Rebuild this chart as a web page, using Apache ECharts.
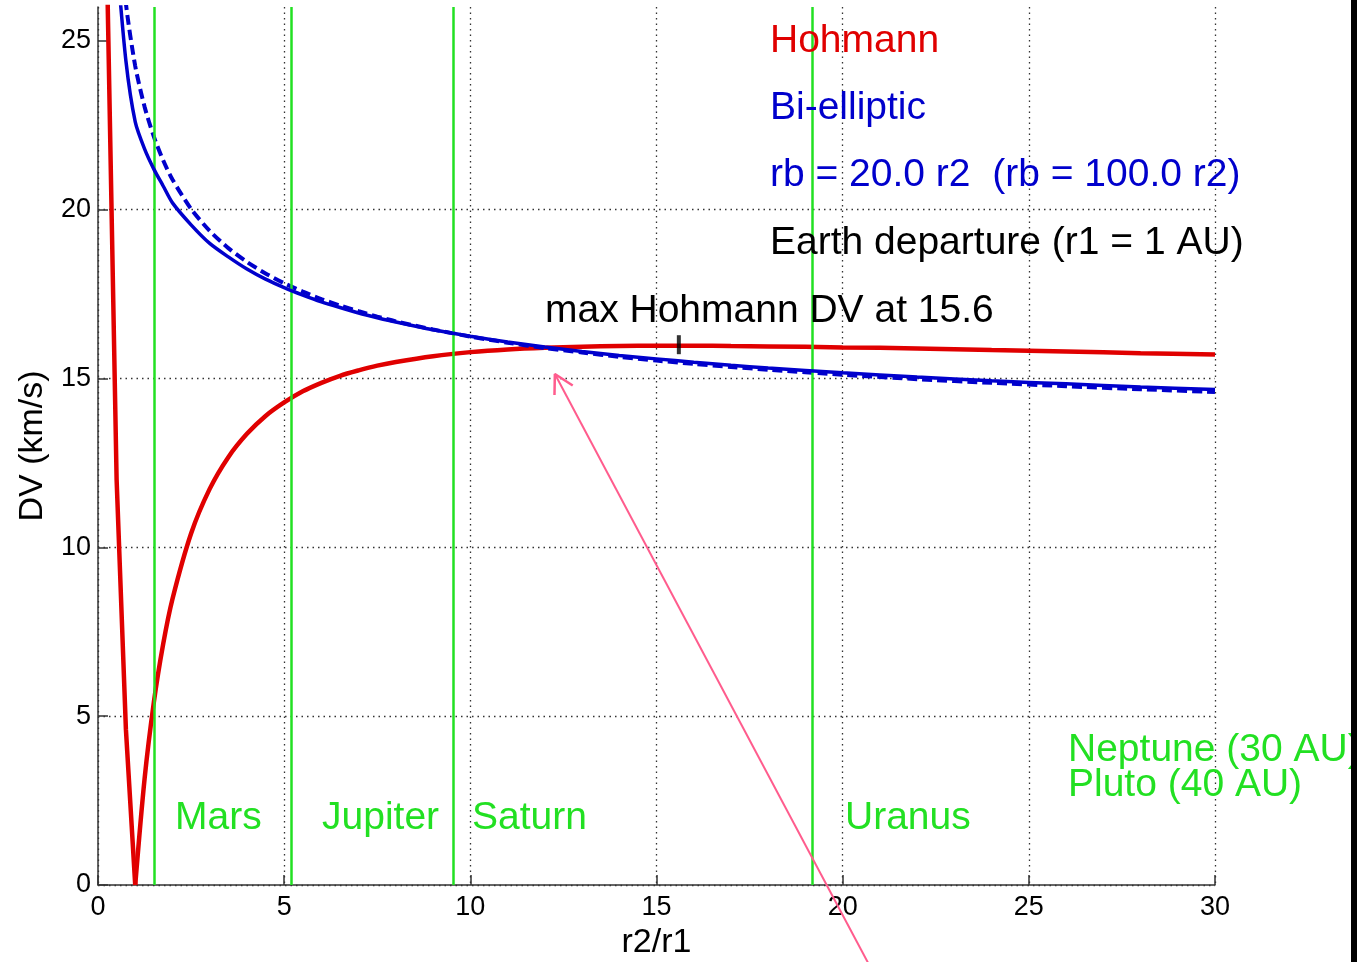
<!DOCTYPE html>
<html>
<head>
<meta charset="utf-8">
<script src="https://cdn.jsdelivr.net/npm/echarts@6/dist/echarts.min.js"></script>
<style>html,body{margin:0;padding:0;background:#fff;}#c{width:1357px;height:962px;}</style>
</head>
<body>
<div id="c"></div>
<script>
// ---- data ----
const ratioR = [0.25, 0.5, 0.75, 1, 1.25, 1.5, 1.75, 2, 2.5, 3, 3.5, 4, 4.5, 5, 5.5, 6, 6.5, 7, 7.5, 8, 9, 10, 11, 12, 13, 14, 15, 16, 17, 18, 20, 22, 24, 26, 28, 30];
const hohmannDV = [26.7, 12.0, 4.6, 0.0, 3.13, 5.41, 7.13, 8.47, 10.41, 11.73, 12.67, 13.36, 13.89, 14.29, 14.62, 14.87, 15.08, 15.24, 15.38, 15.49, 15.66, 15.78, 15.86, 15.91, 15.94, 15.96, 15.97, 15.97, 15.96, 15.95, 15.92, 15.89, 15.84, 15.80, 15.75, 15.71];
const biEllipticRb20 = [null, 27.5, 24.4, 22.6, 21.8, 21.2, 20.7, 20.2, 19.55, 19.0, 18.6, 18.24, 17.94, 17.69, 17.47, 17.27, 17.10, 16.94, 16.80, 16.67, 16.44, 16.25, 16.08, 15.93, 15.80, 15.68, 15.58, 15.48, 15.39, 15.31, 15.17, 15.04, 14.93, 14.84, 14.75, 14.67];
const biEllipticRb100 = [null, 29.3, 26.1, 24.25, 23.05, 22.16, 21.46, 20.89, 20.02, 19.37, 18.86, 18.45, 18.11, 17.82, 17.57, 17.35, 17.16, 16.99, 16.83, 16.69, 16.45, 16.24, 16.06, 15.90, 15.77, 15.64, 15.53, 15.43, 15.34, 15.26, 15.11, 14.98, 14.87, 14.77, 14.68, 14.60];
const planetNames = ['Mars', 'Jupiter', 'Saturn', 'Uranus'];
const planetRatio = [1.52, 5.2, 9.54, 19.19];
const maxHohmannRatio = 15.6;
const maxHohmannDV = 16.0;
const xTicks = [0, 5, 10, 15, 20, 25, 30];
const yTicks = [0, 5, 10, 15, 20, 25];
const arrowTail = [21.5, -4];
const arrowTip = [12.27, 15.13];
const arrowArm1 = [12.75, 14.79];
const arrowArm2 = [12.26, 14.51];

// ---- styles ----
const FONT = '"Liberation Sans", Arial, Helvetica, sans-serif';
const RED = '#e00000', BLUE = '#0000cc', GREEN = '#22e022', PINK = '#ff5c8d';

function pairs(xs, ys) {
  return xs.map((x, i) => [x, ys[i]]).filter(p => p[1] !== null);
}
const hohmannPts = pairs(ratioR, hohmannDV);
const minIdx = hohmannDV.indexOf(Math.min.apply(null, hohmannDV));
const hohmannLeft = hohmannPts.slice(0, minIdx + 1);
const hohmannRight = hohmannPts.slice(minIdx);

const chart = echarts.init(document.getElementById('c'), null, {renderer: 'canvas'});

function txt(text, x, y, color) {
  return {type: 'text', z: 50, style: {text: text, x: x, y: y, fill: color, font: '39px ' + FONT, align: 'left', verticalAlign: 'middle'}};
}

const option = {
  backgroundColor: '#fff',
  animation: false,
  grid: {left: 98, right: 142, top: 7, bottom: 77, containLabel: false, outerBoundsMode: 'none'},
  xAxis: {
    type: 'value', min: 0, max: 30, interval: 5,
    name: 'r2/r1', nameLocation: 'middle', nameGap: 41,
    nameTextStyle: {fontSize: 34, color: '#000', fontFamily: FONT},
    axisLine: {show: true, onZero: false, lineStyle: {color: '#333', width: 1.5}},
    axisTick: {show: true, inside: true, length: 10, lineStyle: {color: '#333', width: 1.5}, customValues: xTicks},
    axisLabel: {fontSize: 27, color: '#000', fontFamily: FONT, margin: 9, customValues: xTicks},
    splitLine: {show: true, lineStyle: {type: [1.5, 4], color: '#333', width: 1.3}}
  },
  yAxis: {
    type: 'value', min: 0, max: 26, interval: 5,
    name: 'DV (km/s)', nameLocation: 'middle', nameGap: 48, nameRotate: 90,
    nameTextStyle: {fontSize: 34, color: '#000', fontFamily: FONT},
    axisLine: {show: true, onZero: false, lineStyle: {color: '#333', width: 1.5}},
    axisTick: {show: true, inside: true, length: 10, lineStyle: {color: '#333', width: 1.5}, customValues: yTicks},
    axisLabel: {fontSize: 27, color: '#000', fontFamily: FONT, margin: 7, customValues: yTicks},
    splitLine: {show: true, showMaxLine: false, lineStyle: {type: [1.5, 4], color: '#333', width: 1.3}}
  },
  series: [
    {
      type: 'line', name: 'planets', data: [], z: 1,
      markLine: {
        silent: true, symbol: ['none', 'none'], label: {show: false},
        lineStyle: {color: GREEN, width: 2.5, type: 'solid'},
        data: planetRatio.map(r => ({xAxis: r}))
      }
    },
    {
      type: 'line', name: 'Hohmann', data: hohmannLeft, showSymbol: false, z: 3,
      lineStyle: {color: RED, width: 4.5}, itemStyle: {color: RED}
    },
    {
      type: 'line', name: 'Hohmann', data: hohmannRight, showSymbol: false, z: 3,
      smooth: 0.3,
      lineStyle: {color: RED, width: 4.5}, itemStyle: {color: RED}
    },
    {
      type: 'line', name: 'Bi-elliptic rb=100r2', data: pairs(ratioR, biEllipticRb100), showSymbol: false, z: 4,
      smooth: 0.25,
      lineStyle: {color: BLUE, width: 4, type: [10, 5]}, itemStyle: {color: BLUE}
    },
    {
      type: 'line', name: 'Bi-elliptic rb=20r2', data: pairs(ratioR, biEllipticRb20), showSymbol: false, z: 5,
      smooth: 0.25,
      lineStyle: {color: BLUE, width: 3.5}, itemStyle: {color: BLUE}
    },
    {
      type: 'scatter', name: 'max', data: [[maxHohmannRatio, maxHohmannDV]], symbol: 'rect', symbolSize: [4, 19], z: 6,
      itemStyle: {color: '#000'}
    },
    {
      type: 'line', name: 'arrow', data: [arrowTail, arrowTip], clip: false, showSymbol: false, z: 7,
      lineStyle: {color: PINK, width: 2}
    },
    {
      type: 'line', name: 'arrowhead', data: [arrowArm1, arrowTip, arrowArm2], clip: false, showSymbol: false, z: 7,
      lineStyle: {color: PINK, width: 2.5}
    }
  ],
  graphic: [
    txt('Hohmann', 770, 41, RED),
    txt('Bi-elliptic', 770, 108, BLUE),
    txt('rb = 20.0 r2  (rb = 100.0 r2)', 770, 175, BLUE),
    txt('Earth departure (r1 = 1 AU)', 770, 243, '#000'),
    txt('max Hohmann DV at 15.6', 545, 311, '#000'),
    txt(planetNames[0], 175, 818, GREEN),
    txt(planetNames[1], 322, 818, GREEN),
    txt(planetNames[2], 472, 818, GREEN),
    txt(planetNames[3], 845, 818, GREEN),
    txt('Neptune (30 AU)', 1068, 750, GREEN),
    txt('Pluto (40 AU)', 1068, 785, GREEN),
    {type: 'rect', z: 100, shape: {x: 1351, y: 0, width: 6, height: 962}, style: {fill: '#000'}}
  ]
};
chart.setOption(option);
</script>
</body>
</html>
